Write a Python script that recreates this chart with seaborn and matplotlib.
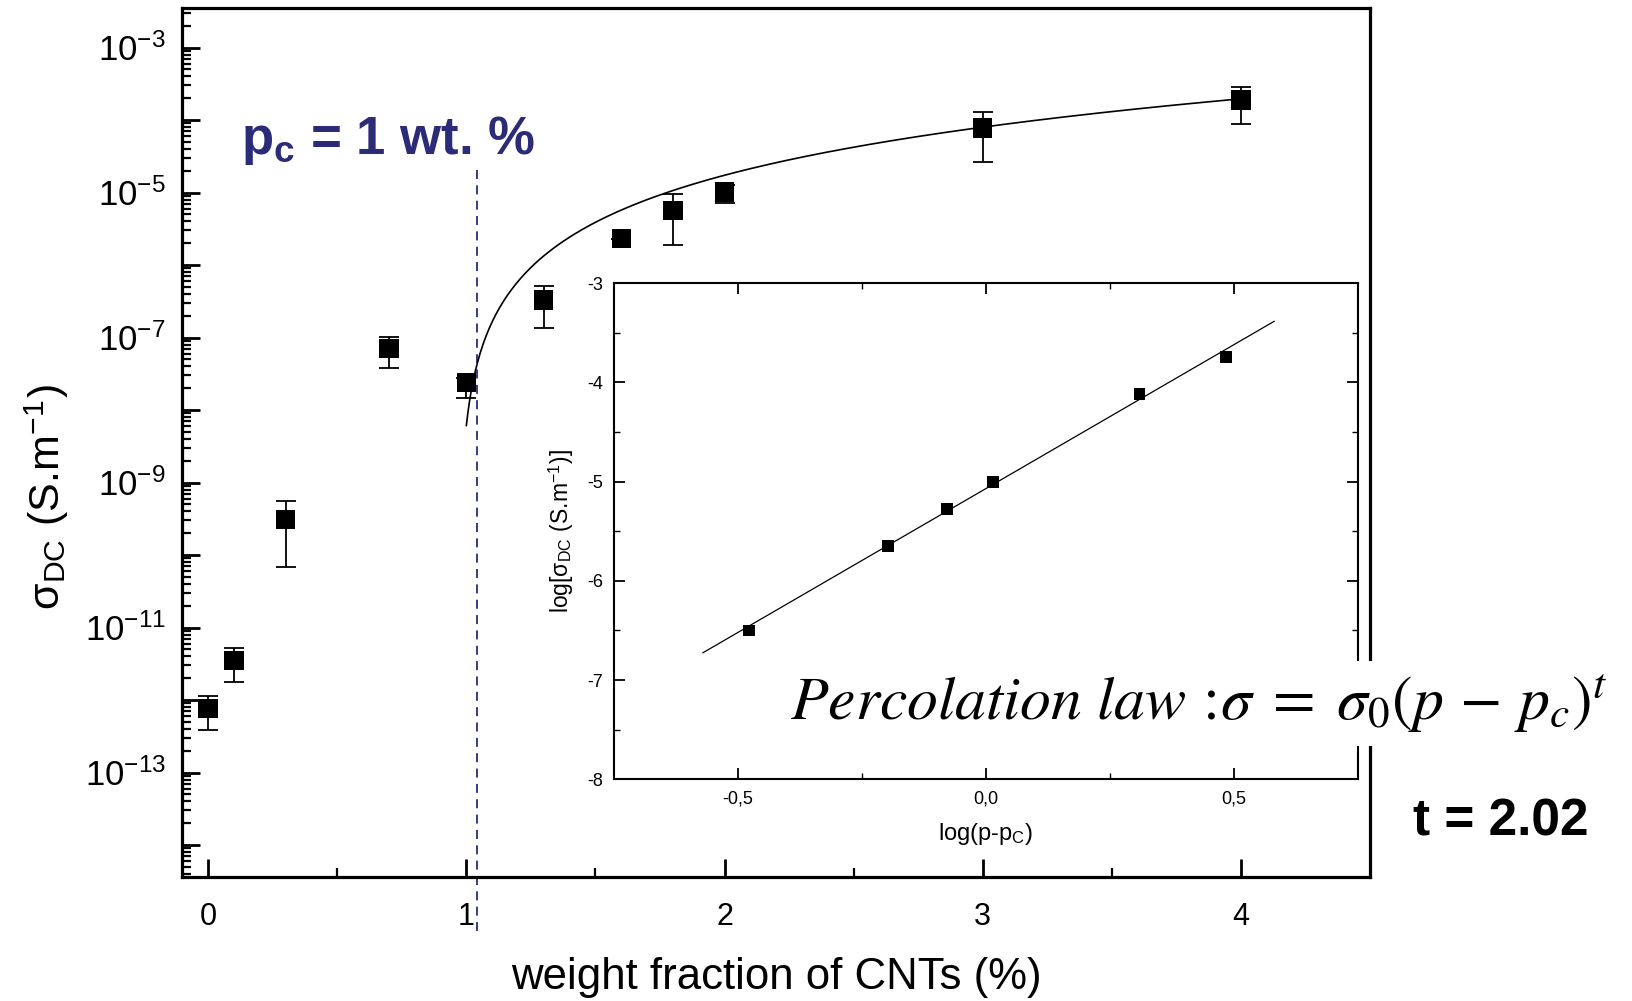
import numpy as np
import pandas as pd
import matplotlib
matplotlib.use("Agg")
import matplotlib.pyplot as plt
import matplotlib.ticker as mticker
import matplotlib.transforms as mtransforms
import seaborn as sns

# ---------------- data ----------------
cnt_wt = [0.0, 0.1, 0.3, 0.7, 1.0, 1.3, 1.6, 1.8, 2.0, 3.0, 4.0]
sigma_dc = [7.6e-13, 3.5e-12, 3.1e-10, 7.1e-8, 2.4e-8, 3.3e-7, 2.3e-6, 5.6e-6, 1.02e-5, 7.8e-5, 1.9e-4]
sigma_hi = [1.15e-12, 5.2e-12, 5.6e-10, 1.02e-7, 2.8e-8, 5.1e-7, 2.3e-6, 9.4e-6, 1.26e-5, 1.29e-4, 2.9e-4]
sigma_lo = [3.9e-13, 1.8e-12, 6.9e-11, 3.8e-8, 1.45e-8, 1.35e-7, 2.3e-6, 1.86e-6, 7.1e-6, 2.66e-5, 8.9e-5]

# percolation-law fit drawn on the main panel
fit_pc = 0.97
fit_t = 2.25
fit_sigma0 = 1.62e-5
fit_p_range = [1.0, 4.0]
pc_marker = 1.043  # dashed vertical line

# inset: log-log plot
inset_logp = [-0.477, -0.198, -0.078, 0.015, 0.310, 0.484]
inset_logsigma = [-6.50, -5.65, -5.275, -5.00, -4.117, -3.744]
inset_slope = 2.9
inset_intercept = -5.07
inset_line_range = [-0.571, 0.582]

main_yticks_exp = list(range(-14, -2))
inset_xticks = [-0.5, 0.0, 0.5]
inset_xticklabels = ["-0,5", "0,0", "0,5"]
inset_yticks = [-8, -7, -6, -5, -4, -3]
inset_yticklabels = ["-8", "-7", "-6", "-5", "-4", "-3"]

NAVY = "#2b2b78"

# ---------------- style ----------------
sns.set_theme(style="white")
plt.rcParams["font.family"] = ["Liberation Sans", "DejaVu Sans"]
plt.rcParams["mathtext.fontset"] = "stix"
plt.rcParams["axes.edgecolor"] = "black"
plt.rcParams["text.color"] = "black"
plt.rcParams["axes.labelcolor"] = "black"
plt.rcParams["xtick.color"] = "black"
plt.rcParams["ytick.color"] = "black"

fig = plt.figure(figsize=(16.32, 10.01), dpi=100)
fig.patch.set_facecolor("white")

# ---------------- main axes ----------------
ax = fig.add_axes([0.1117, 0.1236, 0.7278, 0.8689])
ax.set_yscale("log")
df = pd.DataFrame({"p": cnt_wt, "sigma": sigma_dc, "hi": sigma_hi, "lo": sigma_lo})

ax.errorbar(df["p"], df["sigma"],
            yerr=[df["sigma"] - df["lo"], df["hi"] - df["sigma"]],
            fmt="none", ecolor="black", elinewidth=1.3, capsize=7, capthick=1.3, zorder=2)
sns.scatterplot(data=df, x="p", y="sigma", marker="s", s=195, color="black",
                edgecolor="none", linewidth=0, ax=ax, zorder=3, legend=False)

p_fit = np.linspace(fit_p_range[0], fit_p_range[1], 500)
fit_df = pd.DataFrame({"p": p_fit, "sigma": fit_sigma0 * (p_fit - fit_pc) ** fit_t})
sns.lineplot(data=fit_df, x="p", y="sigma", color="black", linewidth=1.2,
             ax=ax, sort=False, estimator=None, zorder=2.5)

trans = mtransforms.blended_transform_factory(ax.transData, ax.transAxes)
ax.plot([pc_marker, pc_marker], [0.813, -0.064], transform=trans, clip_on=False,
        color=NAVY, lw=1.3, dashes=(5, 3.5), zorder=1)

ax.set_xlim(-0.1, 4.5)
ax.set_ylim(10 ** -14.445, 10 ** -2.448)
ax.xaxis.set_major_locator(mticker.FixedLocator([0, 1, 2, 3, 4]))
ax.xaxis.set_minor_locator(mticker.FixedLocator([0.5, 1.5, 2.5, 3.5]))
ax.xaxis.set_major_formatter(mticker.FixedFormatter(["0", "1", "2", "3", "4"]))
ax.yaxis.set_major_locator(mticker.FixedLocator([10.0 ** e for e in main_yticks_exp]))
ax.yaxis.set_minor_locator(mticker.LogLocator(base=10, subs=np.arange(2, 10), numticks=40))


def yfmt(v, pos):
    e = int(round(np.log10(v)))
    return r"$\mathregular{10^{%d}}$" % e if e % 2 else ""


ax.yaxis.set_major_formatter(mticker.FuncFormatter(yfmt))
ax.yaxis.set_minor_formatter(mticker.NullFormatter())
ax.tick_params(axis="both", which="both", direction="in", colors="black",
               bottom=True, left=True, top=False, right=False)
ax.tick_params(axis="both", which="major", length=13, width=2.0)
ax.tick_params(axis="both", which="minor", length=6.5, width=1.6)
ax.tick_params(axis="x", which="major", pad=18, labelsize=22)
ax.tick_params(axis="y", which="major", pad=12, labelsize=25)
for s in ax.spines.values():
    s.set_linewidth(2.3)
    s.set_color("black")
ax.set_xlabel("")
ax.set_ylabel("")

fig.text(47 / 1632, 1 - 497 / 1001, r"σ$_\mathregular{DC}$ (S.m$^{\mathregular{-1}}$)",
         rotation=90, ha="center", va="center", fontsize=31)
fig.text(776 / 1632, 1 - 978 / 1001, "weight fraction of CNTs (%)",
         ha="center", va="center", fontsize=31.5)

fig.text(241 / 1632, 1 - 154 / 1001, r"p$\mathregular{_c}$ = 1 wt. %", fontsize=38,
         fontweight="bold", color=NAVY, ha="left", va="baseline")

# ---------------- inset ----------------
axin = fig.add_axes([0.3762, 0.2215, 0.4557, 0.4955])
axin.set_facecolor("white")
sns.scatterplot(x=inset_logp, y=inset_logsigma, marker="s", s=72, color="black",
                edgecolor="none", linewidth=0, ax=axin, legend=False, zorder=3)
lx = np.array(inset_line_range)
line_df = pd.DataFrame({"x": lx, "y": inset_intercept + inset_slope * lx})
sns.lineplot(data=line_df, x="x", y="y", color="black", linewidth=0.9, ax=axin,
             sort=False, estimator=None)
axin.set_xlim(-0.75, 0.75)
axin.set_ylim(-8, -3)
axin.set_xticks(inset_xticks)
axin.set_xticklabels(inset_xticklabels)
axin.set_xticks([-0.25, 0.25], minor=True)
axin.set_yticks(inset_yticks)
axin.set_yticklabels(inset_yticklabels)
axin.set_yticks([-7.5, -6.5, -5.5, -4.5, -3.5], minor=True)
axin.tick_params(axis="both", which="both", direction="in", colors="black",
                 bottom=True, left=True, top=True, right=True)
axin.tick_params(axis="both", which="major", length=8, width=1.3, labelsize=13, pad=8)
axin.tick_params(axis="both", which="minor", length=4, width=1.0)
for s in axin.spines.values():
    s.set_linewidth(1.5)
    s.set_color("black")
axin.set_xlabel(r"log(p-p$_\mathregular{C}$)", fontsize=17, labelpad=10)
axin.set_ylabel(r"log[σ$_\mathregular{DC}$ (S.m$^{\mathregular{-1}}$)]", fontsize=16.5, labelpad=8)

# ---------------- annotations ----------------
fig.text(790 / 1632, 1 - 720 / 1001,
         r"$\mathit{Percolation\ law}\,:\!\sigma\;=\;\sigma_0(p\,-\,p_c)^t$",
         fontsize=44.5, ha="left", va="baseline", zorder=10,
         bbox=dict(facecolor="white", edgecolor="none", pad=8))
fig.text(1413 / 1632, 1 - 835 / 1001, "t = 2.02", fontsize=37, fontweight="bold",
         ha="left", va="baseline")

fig.savefig("out.png", dpi=100, facecolor="white")
